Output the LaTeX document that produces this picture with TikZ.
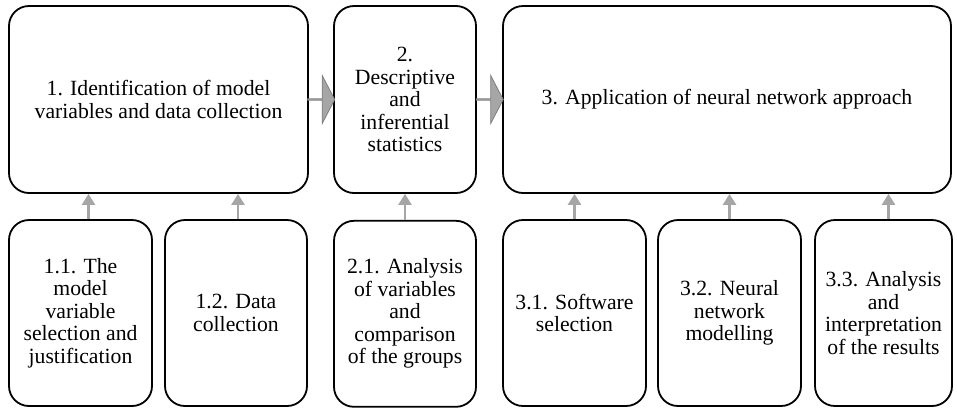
\documentclass[tikz,border=0pt]{standalone}
\usepackage{fontspec}
\setmainfont{Liberation Serif}
\usetikzlibrary{shapes.arrows, calc, arrows.meta, positioning}
\definecolor{linkgray}{HTML}{A6A6A6}
\definecolor{rimgray}{HTML}{7F7F7F}

\begin{document}
\begin{tikzpicture}[x=1pt, y=-1pt,
    stage/.style={rectangle, draw, line width=1.8pt, rounded corners=20pt,
        align=center, inner sep=2pt, font=\fontsize{21.7}{22.5}\selectfont},
    main/.style={stage, minimum height=187pt},
    sub/.style={stage, minimum width=143pt, minimum height=186pt},
    pass/.style={single arrow, draw=rimgray, fill=linkgray, line width=0.8pt,
        minimum width=48pt, minimum height=27pt, single arrow head extend=12.5pt,
        single arrow tip angle=125, inner sep=0pt},
    feed/.style={draw=linkgray, line width=2.6pt, -{Triangle[width=13pt,length=11pt]}}
]
\useasboundingbox (0,0) rectangle (957,408);

% stages
\node (Step1) [main, minimum width=299pt] at (158.5,99.5)
    {1. Identification of model\\variables and data collection};
\node (Step2) [main, minimum width=142pt] at (405,99.5)
    {2.\\Descriptive\\and\\inferential\\statistics};
\node (Step3) [main, minimum width=448pt] at (727,99.5)
    {3. Application of neural network approach};

% sub-steps
\node (Sub11) [sub] at (80.5,313) {1.1. The\\model\\variable\\selection and\\justification};
\node (Sub12) [sub, minimum width=142pt] at (236,313) {1.2. Data\\collection};
\node (Sub21) [sub, minimum width=142pt, below=26pt of Step2] {2.1. Analysis\\of variables\\and\\comparison\\of the groups};
\node (Sub31) [sub] at (574.5,313) {3.1. Software\\selection};
\node (Sub32) [sub] at (729.5,313) {3.2. Neural\\network\\modelling};
\node (Sub33) [sub, minimum width=137pt] at (883.5,313) {3.3. Analysis\\and\\interpretation\\of the results};

% flow between stages
\node (Pass12) [pass] at ($(Step1.east)!0.5!(Step2.west)$) {};
\node (Pass23) [pass] at ($(Step2.east)!0.5!(Step3.west)$) {};

% sub-steps feed their stage
\draw[feed] ([xshift=8pt]Sub11.north) -- ([xshift=8pt]Sub11.north |- Step1.south);
\draw[feed] ([xshift=2pt]Sub12.north) -- ([xshift=2pt]Sub12.north |- Step1.south);
\draw[feed] (Sub21.north) -- (Step2.south);
\draw[feed] (Sub31.north) -- (Sub31.north |- Step3.south);
\draw[feed] (Sub32.north) -- (Sub32.north |- Step3.south);
\draw[feed] ([xshift=5pt]Sub33.north) -- ([xshift=5pt]Sub33.north |- Step3.south);

\end{tikzpicture}
\end{document}
